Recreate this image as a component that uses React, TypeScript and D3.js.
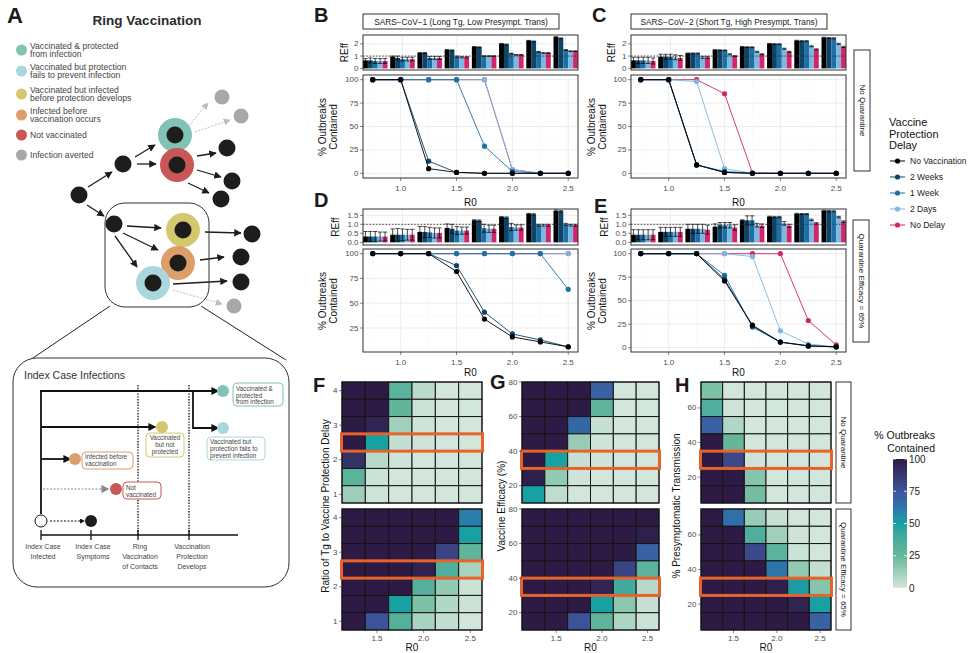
import React from 'react';
import * as d3 from 'd3';

const FONT = '"Liberation Sans", Arial, Helvetica, sans-serif';

// ---- data: outbreak simulations ----
const r0Values = [0.75, 1, 1.25, 1.5, 1.75, 2, 2.25, 2.5];
const delayNames = ['No Vaccination', '2 Weeks', '1 Week', '2 Days', 'No Delay'];
const delayColors = ['#000000', '#0e4468', '#1d6fa5', '#7cb8e2', '#d3256b'];

// % outbreaks contained, one row per delay
const bContained = [
  [100, 100, 5, 1, 0, 0, 0, 0],
  [100, 100, 13, 1, 0, 0, 0, 0],
  [100, 100, 100, 100, 29, 2, 0, 0],
  [100, 100, 100, 100, 100, 4, 0, 0],
  [100, 100, 100, 100, 100, 4, 0, 0],
];
const cContained = [
  [100, 100, 9, 1, 0, 0, 0, 0],
  [100, 100, 9, 1, 0, 0, 0, 0],
  [100, 100, 9, 2, 0, 0, 0, 0],
  [100, 100, 98, 5, 0, 0, 0, 0],
  [100, 100, 100, 85, 0.5, 0, 0, 0],
];
const dContained = [
  [100, 100, 100, 82, 34, 16, 11, 6],
  [100, 100, 100, 88, 41, 19, 13, 6],
  [100, 100, 100, 100, 100, 100, 100, 64],
  [100, 100, 100, 100, 100, 100, 100, 100],
  [100, 100, 100, 100, 100, 100, 100, 100],
];
const eContained = [
  [100, 100, 100, 71, 24, 6, 2, 1],
  [100, 100, 100, 73, 23, 6, 2, 1],
  [100, 100, 100, 77, 22, 6, 2, 1],
  [100, 100, 100, 100, 97, 18, 4, 1],
  [100, 100, 100, 100, 100, 100, 29, 3],
];

// effective reproduction number, mean and error
const bReff = [
  [0.65, 0.95, 1.25, 1.5, 1.75, 2.0, 2.25, 2.55],
  [0.65, 0.85, 1.25, 1.47, 1.72, 1.95, 2.2, 2.45],
  [0.6, 0.75, 0.85, 0.95, 1.0, 1.2, 1.35, 1.5],
  [0.6, 0.75, 0.85, 0.9, 1.0, 1.1, 1.25, 1.4],
  [0.6, 0.75, 0.85, 0.9, 1.0, 1.1, 1.25, 1.4],
];
const bErr = [
  [0.15, 0.05, 0.04, 0.03, 0.03, 0.03, 0.03, 0.03],
  [0.2, 0.15, 0.04, 0.03, 0.03, 0.03, 0.03, 0.03],
  [0.2, 0.15, 0.12, 0.05, 0.03, 0.03, 0.03, 0.03],
  [0.2, 0.15, 0.12, 0.05, 0.03, 0.03, 0.03, 0.03],
  [0.2, 0.15, 0.12, 0.05, 0.03, 0.03, 0.03, 0.03],
];
const cReff = [
  [0.65, 0.95, 1.22, 1.5, 1.75, 2.0, 2.25, 2.5],
  [0.65, 0.95, 1.22, 1.48, 1.73, 1.98, 2.22, 2.47],
  [0.65, 0.95, 1.22, 1.47, 1.72, 1.97, 2.22, 2.45],
  [0.65, 0.9, 0.9, 1.15, 1.35, 1.6, 1.8, 2.0],
  [0.6, 0.85, 0.9, 1.0, 1.15, 1.35, 1.55, 1.75],
];
const cErr = [
  [0.25, 0.2, 0.03, 0.03, 0.03, 0.03, 0.04, 0.04],
  [0.25, 0.2, 0.03, 0.03, 0.03, 0.03, 0.04, 0.04],
  [0.25, 0.2, 0.03, 0.03, 0.03, 0.03, 0.04, 0.04],
  [0.25, 0.2, 0.08, 0.04, 0.04, 0.04, 0.04, 0.05],
  [0.25, 0.2, 0.08, 0.04, 0.04, 0.04, 0.04, 0.05],
];
const dReff = [
  [0.32, 0.42, 0.58, 0.8, 1.22, 1.4, 1.58, 1.75],
  [0.32, 0.42, 0.57, 0.75, 1.2, 1.37, 1.55, 1.72],
  [0.32, 0.42, 0.55, 0.65, 0.78, 0.85, 0.95, 1.0],
  [0.32, 0.42, 0.52, 0.65, 0.75, 0.82, 0.95, 0.95],
  [0.32, 0.42, 0.52, 0.65, 0.75, 0.82, 0.95, 0.95],
];
const dErr = [
  [0.28, 0.32, 0.3, 0.22, 0.03, 0.03, 0.03, 0.05],
  [0.28, 0.35, 0.3, 0.25, 0.04, 0.04, 0.04, 0.04],
  [0.28, 0.32, 0.28, 0.22, 0.22, 0.2, 0.05, 0.05],
  [0.25, 0.3, 0.28, 0.2, 0.2, 0.15, 0.05, 0.05],
  [0.25, 0.3, 0.28, 0.2, 0.2, 0.15, 0.05, 0.05],
];
const eReff = [
  [0.42, 0.58, 0.75, 0.87, 1.22, 1.42, 1.58, 1.75],
  [0.42, 0.58, 0.75, 0.95, 1.22, 1.4, 1.57, 1.73],
  [0.42, 0.58, 0.75, 0.95, 1.22, 1.4, 1.57, 1.72],
  [0.42, 0.58, 0.75, 0.95, 0.95, 1.05, 1.25, 1.4],
  [0.42, 0.58, 0.7, 0.82, 0.92, 0.92, 1.05, 1.15],
];
const eErr = [
  [0.28, 0.25, 0.25, 0.15, 0.03, 0.03, 0.03, 0.03],
  [0.28, 0.25, 0.25, 0.15, 0.25, 0.04, 0.03, 0.03],
  [0.28, 0.25, 0.25, 0.15, 0.25, 0.04, 0.03, 0.03],
  [0.28, 0.25, 0.25, 0.15, 0.1, 0.1, 0.04, 0.04],
  [0.28, 0.25, 0.25, 0.15, 0.1, 0.08, 0.04, 0.04],
];

// heatmaps, rows listed from the top of each panel
const heatR0 = [1.25, 1.5, 1.75, 2, 2.25, 2.5];
const ratioRows = [4, 3.5, 3, 2.5, 2, 1.5, 1];
const efficacyRows = [75, 65, 55, 45, 35, 25, 15];
const presympRows = [70, 60, 50, 40, 30, 20, 10];
const colorbarTicks = [0, 25, 50, 75, 100];

const fTop = [
  [100, 100, 30, 6, 0, 0],
  [100, 100, 27, 2, 0, 0],
  [100, 96, 12, 1, 0, 0],
  [100, 50, 4, 1, 0, 0],
  [90, 7, 1, 0, 0, 0],
  [30, 2, 0, 0, 0, 0],
  [13, 1, 0, 0, 0, 0],
];
const fBottom = [
  [100, 100, 100, 100, 100, 60],
  [100, 100, 100, 100, 100, 50],
  [100, 100, 100, 100, 82, 28],
  [100, 100, 100, 97, 35, 10],
  [100, 100, 100, 33, 15, 2],
  [100, 100, 50, 20, 8, 2],
  [100, 76, 33, 10, 4, 0],
];
const gTop = [
  [100, 100, 100, 70, 0, 0],
  [100, 100, 100, 28, 0, 0],
  [100, 100, 68, 3, 0, 0],
  [100, 100, 14, 1, 0, 0],
  [100, 50, 3, 1, 0, 0],
  [98, 15, 1, 0, 0, 0],
  [50, 5, 0, 0, 0, 0],
];
const gBottom = [
  [100, 100, 100, 100, 100, 100],
  [100, 100, 100, 100, 100, 98],
  [100, 100, 100, 100, 100, 70],
  [100, 100, 100, 100, 82, 30],
  [100, 100, 100, 96, 40, 7],
  [100, 100, 100, 50, 17, 3],
  [100, 100, 76, 28, 9, 2],
];
const hTop = [
  [20, 0, 0, 0, 0, 0],
  [35, 1, 0, 0, 0, 0],
  [70, 8, 0, 0, 0, 0],
  [100, 25, 0, 0, 0, 0],
  [100, 80, 1, 0, 0, 0],
  [100, 100, 18, 0, 0, 0],
  [100, 100, 22, 0, 0, 0],
];
const hBottom = [
  [100, 65, 14, 3, 0, 0],
  [100, 100, 35, 12, 1, 0],
  [100, 100, 80, 30, 2, 0],
  [100, 100, 100, 63, 15, 4],
  [100, 100, 100, 98, 52, 18],
  [100, 100, 100, 100, 96, 50],
  [100, 100, 100, 100, 100, 70],
];

const heatFill = d3
  .scaleLinear<string>()
  .domain([0, 25, 50, 62, 75, 100])
  .range(['#d3e6dc', '#66b79a', '#17a1a3', '#2a77ad', '#3c559e', '#2d1b45'])
  .interpolate(d3.interpolateLab)
  .clamp(true);

const GRID = '#ebebeb';
const GRID_MINOR = '#f6f6f6';
const BORDER = '#333333';
const TICK_TXT = '#4d4d4d';

const minorsOf = (ticks: number[], domain: number[]) => {
  const step = ticks[1] - ticks[0];
  const out: number[] = [];
  for (let v = ticks[0] - step / 2; v <= domain[1]; v += step) {
    if (v >= domain[0]) out.push(v);
  }
  return out;
};

function YAxis({ y, ticks, x0, fmt }: any) {
  return (
    <g>
      {ticks.map((t: number) => (
        <g key={t}>
          <line x1={x0 - 3} x2={x0} y1={y(t)} y2={y(t)} stroke={BORDER} strokeWidth={0.6} />
          <text x={x0 - 4.5} y={y(t)} dominantBaseline="central" textAnchor="end" fontSize={8} fill={TICK_TXT}>
            {fmt ? fmt(t) : t}
          </text>
        </g>
      ))}
    </g>
  );
}

function BarPanel({ x0, x1, y0, y1, reff, err, yDomain, yTicks, fmt }: any) {
  const x = d3.scaleLinear().domain([0.6375, 2.6125]).range([x0, x1]);
  const y = d3.scaleLinear().domain(yDomain).range([y1, y0]);
  const dodge = d3.scaleBand().domain(delayNames).range([-0.1125, 0.1125]);
  const bw = x(dodge.bandwidth()) - x(0);
  return (
    <g>
      <rect x={x0} y={y0} width={x1 - x0} height={y1 - y0} fill="white" />
      {[0.75, 1.25, 1.75, 2.25].map((v) => (
        <line key={'mx' + v} x1={x(v)} x2={x(v)} y1={y0} y2={y1} stroke={GRID_MINOR} strokeWidth={0.5} />
      ))}
      {minorsOf(yTicks, yDomain).map((v) => (
        <line key={'my' + v} x1={x0} x2={x1} y1={y(v)} y2={y(v)} stroke={GRID_MINOR} strokeWidth={0.5} />
      ))}
      {[1, 1.5, 2, 2.5].map((v) => (
        <line key={'gx' + v} x1={x(v)} x2={x(v)} y1={y0} y2={y1} stroke={GRID} strokeWidth={0.9} />
      ))}
      {yTicks.map((v: number) => (
        <line key={'gy' + v} x1={x0} x2={x1} y1={y(v)} y2={y(v)} stroke={GRID} strokeWidth={0.9} />
      ))}
      {delayNames.map((name, di) =>
        r0Values.map((r, ri) => {
          const bx = x(r + (dodge(name) as number));
          const v = reff[di][ri];
          const e = err[di][ri];
          const cx = bx + bw / 2;
          return (
            <g key={name + r}>
              <rect x={bx} y={y(v)} width={bw} height={y(0) - y(v)} fill={delayColors[di]} />
              <line x1={cx} x2={cx} y1={y(v - e)} y2={y(v + e)} stroke="#000" strokeWidth={0.7} />
              <line x1={cx - bw * 0.45} x2={cx + bw * 0.45} y1={y(v + e)} y2={y(v + e)} stroke="#000" strokeWidth={0.7} />
              <line x1={cx - bw * 0.45} x2={cx + bw * 0.45} y1={y(v - e)} y2={y(v - e)} stroke="#000" strokeWidth={0.7} />
            </g>
          );
        })
      )}
      <line x1={x0} x2={x1} y1={y(1)} y2={y(1)} stroke="#333" strokeWidth={0.9} strokeDasharray="1.6,1.6" />
      <rect x={x0} y={y0} width={x1 - x0} height={y1 - y0} fill="none" stroke={BORDER} strokeWidth={1} />
      <YAxis y={y} ticks={yTicks} x0={x0} fmt={fmt} />
    </g>
  );
}

function LinePanel({ x0, x1, y0, y1, contained, yDomain, yTicks, titleOffset }: any) {
  const x = d3.scaleLinear().domain([0.6625, 2.5875]).range([x0, x1]);
  const y = d3.scaleLinear().domain(yDomain).range([y1, y0]);
  const line = d3
    .line<number>()
    .x((_, i) => x(r0Values[i]))
    .y((d) => y(d));
  const order = [4, 3, 2, 1, 0];
  return (
    <g>
      <rect x={x0} y={y0} width={x1 - x0} height={y1 - y0} fill="white" />
      {[0.75, 1.25, 1.75, 2.25].map((v) => (
        <line key={'mx' + v} x1={x(v)} x2={x(v)} y1={y0} y2={y1} stroke={GRID_MINOR} strokeWidth={0.5} />
      ))}
      {minorsOf(yTicks, yDomain).map((v) => (
        <line key={'my' + v} x1={x0} x2={x1} y1={y(v)} y2={y(v)} stroke={GRID_MINOR} strokeWidth={0.5} />
      ))}
      {[1, 1.5, 2, 2.5].map((v) => (
        <line key={'gx' + v} x1={x(v)} x2={x(v)} y1={y0} y2={y1} stroke={GRID} strokeWidth={0.9} />
      ))}
      {yTicks.map((v: number) => (
        <line key={'gy' + v} x1={x0} x2={x1} y1={y(v)} y2={y(v)} stroke={GRID} strokeWidth={0.9} />
      ))}
      {order.map((di) => (
        <g key={delayNames[di]}>
          <path d={line(contained[di]) as string} fill="none" stroke={delayColors[di]} strokeWidth={1} strokeOpacity={0.9} />
          {contained[di].map((v: number, i: number) => (
            <circle key={i} cx={x(r0Values[i])} cy={y(v)} r={2.6} fill={delayColors[di]} />
          ))}
        </g>
      ))}
      <rect x={x0} y={y0} width={x1 - x0} height={y1 - y0} fill="none" stroke={BORDER} strokeWidth={1} />
      <YAxis y={y} ticks={yTicks} x0={x0} />
      {[1, 1.5, 2, 2.5].map((v) => (
        <g key={'xt' + v}>
          <line x1={x(v)} x2={x(v)} y1={y1} y2={y1 + 3} stroke={BORDER} strokeWidth={0.6} />
          <text x={x(v)} y={y1 + 10.5} textAnchor="middle" dominantBaseline="central" fontSize={8} fill={TICK_TXT}>
            {v.toFixed(1)}
          </text>
        </g>
      ))}
      <text x={(x0 + x1) / 2} y={y1 + titleOffset} textAnchor="middle" dominantBaseline="central" fontSize={10} fill="#111">
        R0
      </text>
    </g>
  );
}

function Heatmap({ x0, x1, y0, y1, values, rows, yDomain, yTicks, highlight, showX }: any) {
  const x = d3.scaleLinear().domain([1.125, 2.625]).range([x0, x1]);
  const y = d3.scaleLinear().domain(yDomain).range([y1, y0]);
  const step = rows[0] - rows[1];
  const cw = x(1.375) - x(1.125);
  const ch = y(0) - y(step);
  return (
    <g>
      {rows.map((rv: number, ri: number) =>
        heatR0.map((c, ci) => (
          <rect
            key={ri + '-' + ci}
            x={x(c) - cw / 2}
            y={y(rv + step / 2)}
            width={cw}
            height={ch}
            fill={heatFill(values[ri][ci])}
            stroke="#141414"
            strokeWidth={1}
          />
        ))
      )}
      <rect x={x0} y={y0} width={x1 - x0} height={y1 - y0} fill="none" stroke="#141414" strokeWidth={1} />
      <rect
        x={x0 - 0.5}
        y={y(highlight + step / 2)}
        width={x1 - x0 + 1}
        height={ch}
        fill="none"
        stroke="#e8632b"
        strokeWidth={3}
      />
      <YAxis y={y} ticks={yTicks} x0={x0} />
      {showX &&
        [1.5, 2, 2.5].map((v) => (
          <g key={'xt' + v}>
            <line x1={x(v)} x2={x(v)} y1={y1} y2={y1 + 3} stroke={BORDER} strokeWidth={0.6} />
            <text x={x(v)} y={y1 + 8.5} textAnchor="middle" dominantBaseline="central" fontSize={8} fill={TICK_TXT}>
              {v.toFixed(1)}
            </text>
          </g>
        ))}
      {showX && (
        <text x={(x0 + x1) / 2} y={y1 + 17} textAnchor="middle" dominantBaseline="central" fontSize={10} fill="#111">
          R0
        </text>
      )}
    </g>
  );
}

function StripTop({ x0, x1, y0, y1, label }: any) {
  return (
    <g>
      <rect x={x0} y={y0} width={x1 - x0} height={y1 - y0} fill="white" stroke={BORDER} strokeWidth={1} />
      <text x={(x0 + x1) / 2} y={(y0 + y1) / 2} textAnchor="middle" dominantBaseline="central" fontSize={8.3} fill="#1a1a1a">
        {label}
      </text>
    </g>
  );
}

function StripRight({ x0, x1, y0, y1, label }: any) {
  const cx = (x0 + x1) / 2;
  const cy = (y0 + y1) / 2;
  return (
    <g>
      <rect x={x0} y={y0} width={x1 - x0} height={y1 - y0} fill="white" stroke={BORDER} strokeWidth={1} />
      <text
        x={cx}
        y={cy}
        transform={`rotate(90 ${cx} ${cy})`}
        textAnchor="middle"
        dominantBaseline="central"
        fontSize={8}
        fill="#1a1a1a"
      >
        {label}
      </text>
    </g>
  );
}

function VTitle({ x, y, lines, size = 10 }: any) {
  return (
    <text transform={`rotate(-90 ${x} ${y})`} x={x} y={y} textAnchor="middle" fontSize={size} fill="#111">
      {lines.map((l: string, i: number) => (
        <tspan key={i} x={x} dy={i === 0 ? -(lines.length - 1) * size * 0.55 + size * 0.35 : size * 1.1}>
          {l}
        </tspan>
      ))}
    </text>
  );
}

function Letter({ x, y, t }: any) {
  return (
    <text x={x} y={y} fontSize={20} fontWeight="bold" fill="#1a1a1a">
      {t}
    </text>
  );
}

// ---- panel A diagram ----
const A_TEAL = '#80c2b4';
const A_LBLUE = '#a9d7dd';
const A_YEL = '#d4c86e';
const A_ORA = '#de9e69';
const A_RED = '#ca5758';
const A_GREY = '#a8a8a8';
const A_BLK = '#1d1e1c';

const aLegend = [
  { c: A_TEAL, lines: ['Vaccinated & protected', 'from infection'], y: 50 },
  { c: A_LBLUE, lines: ['Vaccinated but protection', 'fails to prevent infection'], y: 71 },
  { c: A_YEL, lines: ['Vaccinated but infected', 'before protection develops'], y: 94 },
  { c: A_ORA, lines: ['Infected before', 'vaccination occurs'], y: 115 },
  { c: A_RED, lines: ['Not vaccinated'], y: 135 },
  { c: A_GREY, lines: ['Infection averted'], y: 155 },
];

function PanelA() {
  const blackNodes = [
    [79, 195], [123, 164], [114, 224], [227, 148], [232, 181], [221, 199], [252, 234], [241, 257], [241, 282],
  ];
  const greyNodes = [[222, 97], [241, 116], [234, 306]];
  const rings = [
    [175, 135, A_TEAL], [177, 165, A_RED], [183, 230, A_YEL], [178, 263, A_ORA], [153, 283, A_LBLUE],
  ];
  const arrows = [
    [88, 187, 112, 172], [87, 205, 104, 216], [135, 157, 155, 145], [137, 164, 156, 164],
    [197, 156, 216, 153], [197, 170, 221, 177], [188, 183, 209, 193],
    [127, 226, 161, 228], [123, 233, 158, 250], [115, 236, 137, 267],
    [205, 232, 241, 233], [200, 260, 224, 257], [173, 284, 227, 281],
  ];
  const dotted = [[187, 128, 208, 103], [195, 132, 230, 120], [173, 290, 222, 304]];
  const tl = 535;
  const labelBox = (x: number, y: number, w: number, h: number, stroke: string, lines: string[], anchor: string, ys: number[]) => (
    <g>
      <rect x={x} y={y} width={w} height={h} rx={4} fill="white" stroke={stroke} strokeWidth={1} />
      {lines.map((l, i) => (
        <text
          key={i}
          x={anchor === 'middle' ? x + w / 2 : x + 3}
          y={ys[i]}
          textAnchor={anchor}
          dominantBaseline="central"
          fontSize={6.3}
          fill="#444"
        >
          {l}
        </text>
      ))}
    </g>
  );
  return (
    <g>
      <text x={7} y={23} fontSize={22} fontWeight="bold" fill="#1a1a1a">A</text>
      <text x={147} y={25} fontSize={13.5} fontWeight="bold" textAnchor="middle" fill="#2a2a2a">
        Ring Vaccination
      </text>
      {aLegend.map((e) => (
        <g key={e.lines[0]}>
          <circle cx={21.5} cy={e.y} r={5.5} fill={e.c} />
          {e.lines.map((l, i) => (
            <text
              key={i}
              x={30}
              y={e.lines.length === 1 ? e.y : e.y + (i === 0 ? -4.3 : 4)}
              dominantBaseline="central"
              fontSize={8.6}
              fill="#444"
            >
              {l}
            </text>
          ))}
        </g>
      ))}
      {arrows.map((a, i) => (
        <line key={'ar' + i} x1={a[0]} y1={a[1]} x2={a[2]} y2={a[3]} stroke={A_BLK} strokeWidth={1.3} markerEnd="url(#ah)" />
      ))}
      {dotted.map((a, i) => (
        <line
          key={'dt' + i}
          x1={a[0]}
          y1={a[1]}
          x2={a[2]}
          y2={a[3]}
          stroke="#bdbdbd"
          strokeWidth={1}
          strokeDasharray="2,1.5"
          markerEnd="url(#ahg)"
        />
      ))}
      <rect x={105} y={203} width={104} height={104} rx={20} fill="none" stroke="#333" strokeWidth={1} />
      {rings.map((r, i) => (
        <g key={'rg' + i}>
          <circle cx={r[0] as number} cy={r[1] as number} r={17} fill={r[2] as string} />
          <circle cx={r[0] as number} cy={r[1] as number} r={8.5} fill={A_BLK} />
        </g>
      ))}
      {blackNodes.map((n, i) => (
        <circle key={'bn' + i} cx={n[0]} cy={n[1]} r={8.5} fill={A_BLK} />
      ))}
      {greyNodes.map((n, i) => (
        <circle key={'gn' + i} cx={n[0]} cy={n[1]} r={7.5} fill={A_GREY} />
      ))}
      <line x1={110} y1={306} x2={30} y2={360} stroke="#222" strokeWidth={1} />
      <line x1={201} y1={306} x2={286} y2={360} stroke="#222" strokeWidth={1} />

      {/* index case timeline */}
      <rect x={13} y={358} width={276} height={229} rx={24} fill="white" stroke="#333" strokeWidth={1} />
      <text x={24} y={375} dominantBaseline="central" fontSize={10.5} fill="#333">
        Index Case Infections
      </text>
      <line x1={138} x2={138} y1={385} y2={tl} stroke="#111" strokeWidth={1.3} strokeDasharray="1.4,1.4" />
      <line x1={189} x2={189} y1={385} y2={tl} stroke="#111" strokeWidth={1.3} strokeDasharray="1.4,1.4" />
      <line x1={41} x2={41} y1={391} y2={514} stroke="#111" strokeWidth={1.8} />
      <line x1={40.1} x2={213} y1={391} y2={391} stroke="#111" strokeWidth={1.8} markerEnd="url(#ah2)" />
      <polyline points="193,391 193,428 213,428" fill="none" stroke="#111" strokeWidth={1.8} markerEnd="url(#ah2)" />
      <line x1={41} x2={150} y1={427} y2={427} stroke="#111" strokeWidth={1.8} markerEnd="url(#ah2)" />
      <line x1={41} x2={65} y1={459} y2={459} stroke="#111" strokeWidth={1.8} markerEnd="url(#ah2)" />
      <line x1={43} x2={103} y1={489} y2={489} stroke="#888" strokeWidth={1} strokeDasharray="2,1.5" markerEnd="url(#ahg2)" />
      <circle cx={223} cy={391} r={6} fill={A_TEAL} />
      <circle cx={223} cy={428} r={6} fill={A_LBLUE} />
      <circle cx={162} cy={427} r={6} fill={A_YEL} />
      <circle cx={75} cy={459} r={6} fill={A_ORA} />
      <circle cx={116} cy={489} r={6} fill={A_RED} />
      {labelBox(233, 383, 50, 23, A_TEAL, ['Vaccinated &', 'protected', 'from infection'], 'start', [388.5, 395, 401.5])}
      {labelBox(207, 437, 58, 23, A_LBLUE, ['Vaccinated but', 'protection fails to', 'prevent infection'], 'start', [441.7, 448.3, 455])}
      {labelBox(146, 433, 38, 24, A_YEL, ['Vaccinated', 'but not', 'protected'], 'middle', [437.5, 444.5, 451.5])}
      {labelBox(82, 452, 51, 17, A_ORA, ['Infected before', 'vaccination'], 'start', [456.7, 463.7])}
      {labelBox(123, 482, 38, 17, A_RED, ['Not', 'vaccinated'], 'start', [487, 494])}
      <circle cx={41} cy={521} r={6} fill="white" stroke="#111" strokeWidth={1} />
      <line x1={50} x2={81} y1={521} y2={521} stroke="#111" strokeWidth={1} strokeDasharray="2,1.5" markerEnd="url(#ahs)" />
      <circle cx={91} cy={521} r={6} fill={A_BLK} />
      <line x1={41} x2={238} y1={tl} y2={tl} stroke="#111" strokeWidth={1.3} />
      {[41, 91, 138, 189].map((t) => (
        <line key={t} x1={t} x2={t} y1={tl - 5} y2={tl + 5} stroke="#111" strokeWidth={1.3} />
      ))}
      {[
        [43, ['Index Case', 'Infected']],
        [93, ['Index Case', 'Symptoms']],
        [140, ['Ring', 'Vaccination', 'of Contacts']],
        [192, ['Vaccination', 'Protection', 'Develops']],
      ].map(([x, lines]: any) =>
        lines.map((l: string, i: number) => (
          <text key={x + l} x={x} y={546 + i * 10.3} textAnchor="middle" dominantBaseline="central" fontSize={7} fill="#444">
            {l}
          </text>
        ))
      )}
    </g>
  );
}

export default function App() {
  const BX = [363, 578];
  const CX = [631, 846];
  const topBar = [35, 70];
  const topLine = [75, 178];
  const botBar = [209, 245];
  const botLine = [249, 352];
  const reffTop = { yDomain: [-0.135, 2.72], yTicks: [0, 1, 2] };
  const reffBot = { yDomain: [-0.15, 1.85], yTicks: [0, 0.5, 1, 1.5], fmt: (v: number) => v.toFixed(1) };
  const heatY = { top: [382, 503], bot: [509, 630] };
  const F = [342, 482];
  const G = [522, 659];
  const H = [701, 831];
  const cbY = [459, 588];
  const cb = d3.scaleLinear().domain([0, 100]).range([cbY[1], cbY[0]]);
  const stops = d3.range(0, 101, 5);

  return (
    <svg
      width={969}
      height={653}
      style={{ position: 'absolute', left: 0, top: 0, background: 'white', fontFamily: FONT }}
      fontFamily={FONT}
    >
      <defs>
        <marker id="ah" viewBox="0 0 10 10" refX="9" refY="5" markerUnits="userSpaceOnUse" markerWidth="7.5" markerHeight="7.5" orient="auto">
          <path d="M0,0 L10,5 L0,10 z" fill={A_BLK} />
        </marker>
        <marker id="ahg" viewBox="0 0 10 10" refX="9" refY="5" markerUnits="userSpaceOnUse" markerWidth="7" markerHeight="7" orient="auto">
          <path d="M0,0 L10,5 L0,10 z" fill="#bdbdbd" />
        </marker>
        <marker id="ah2" viewBox="0 0 10 10" refX="2" refY="5" markerUnits="userSpaceOnUse" markerWidth="8" markerHeight="8" orient="auto">
          <path d="M0,0 L10,5 L0,10 z" fill="#111" />
        </marker>
        <marker id="ahg2" viewBox="0 0 10 10" refX="2" refY="5" markerUnits="userSpaceOnUse" markerWidth="8" markerHeight="8" orient="auto">
          <path d="M0,0 L10,5 L0,10 z" fill="#888" />
        </marker>
        <marker id="ahs" viewBox="0 0 10 10" refX="2" refY="5" markerUnits="userSpaceOnUse" markerWidth="5" markerHeight="5" orient="auto">
          <path d="M0,0 L10,5 L0,10 z" fill="#111" />
        </marker>
        <linearGradient id="cbGrad" x1="0" y1="1" x2="0" y2="0">
          {stops.map((s) => (
            <stop key={s} offset={`${s}%`} stopColor={heatFill(s)} />
          ))}
        </linearGradient>
      </defs>
      <rect x={0} y={0} width={969} height={653} fill="white" />

      <PanelA />

      {/* B */}
      <Letter x={314} y={22} t="B" />
      <StripTop x0={BX[0]} x1={559} y0={14} y1={29} label="SARS−CoV−1 (Long Tg, Low Presympt. Trans)" />
      <BarPanel x0={BX[0]} x1={BX[1]} y0={topBar[0]} y1={topBar[1]} reff={bReff} err={bErr} {...reffTop} />
      <LinePanel x0={BX[0]} x1={BX[1]} y0={topLine[0]} y1={topLine[1]} contained={bContained} yDomain={[-5, 105]} yTicks={[0, 25, 50, 75, 100]} titleOffset={24} />
      <VTitle x={344} y={52.5} lines={['REff']} />
      <VTitle x={328} y={127} lines={['% Outbreaks', 'Contained']} />

      {/* C */}
      <Letter x={592} y={22} t="C" />
      <StripTop x0={CX[0]} x1={827} y0={14} y1={29} label="SARS−CoV−2 (Short Tg, High Presympt. Trans)" />
      <BarPanel x0={CX[0]} x1={CX[1]} y0={topBar[0]} y1={topBar[1]} reff={cReff} err={cErr} {...reffTop} />
      <LinePanel x0={CX[0]} x1={CX[1]} y0={topLine[0]} y1={topLine[1]} contained={cContained} yDomain={[-5, 105]} yTicks={[0, 25, 50, 75, 100]} titleOffset={24} />
      <VTitle x={611} y={52.5} lines={['REff']} />
      <VTitle x={597} y={127} lines={['% Outbreaks', 'Contained']} />
      <StripRight x0={854} x1={870} y0={50} y1={171} label="No Quarantine" />

      {/* D */}
      <Letter x={314} y={207} t="D" />
      <BarPanel x0={BX[0]} x1={BX[1]} y0={botBar[0]} y1={botBar[1]} reff={dReff} err={dErr} {...reffBot} />
      <LinePanel x0={BX[0]} x1={BX[1]} y0={botLine[0]} y1={botLine[1]} contained={dContained} yDomain={[0.8, 104.7]} yTicks={[25, 50, 75, 100]} titleOffset={20} />
      <VTitle x={335} y={227} lines={['REff']} />
      <VTitle x={328} y={301} lines={['% Outbreaks', 'Contained']} />

      {/* E */}
      <Letter x={594} y={213} t="E" />
      <BarPanel x0={CX[0]} x1={CX[1]} y0={botBar[0]} y1={botBar[1]} reff={eReff} err={eErr} {...reffBot} />
      <LinePanel x0={CX[0]} x1={CX[1]} y0={botLine[0]} y1={botLine[1]} contained={eContained} yDomain={[-4.5, 105]} yTicks={[0, 25, 50, 75, 100]} titleOffset={20} />
      <VTitle x={604} y={227} lines={['REff']} />
      <VTitle x={597} y={301} lines={['% Outbreaks', 'Contained']} />
      <StripRight x0={853} x1={869} y0={220} y1={342} label="Quarantine Efficacy = 65%" />

      {/* delay legend */}
      {['Vaccine', 'Protection', 'Delay'].map((l, i) => (
        <text key={l} x={889} y={122 + i * 11.5} dominantBaseline="central" fontSize={11} fill="#111">
          {l}
        </text>
      ))}
      {delayNames.map((n, i) => (
        <g key={n}>
          <line x1={890} x2={905} y1={161 + i * 16} y2={161 + i * 16} stroke={delayColors[i]} strokeWidth={1} />
          <circle cx={897.5} cy={161 + i * 16} r={2.6} fill={delayColors[i]} />
          <text x={910} y={161 + i * 16} dominantBaseline="central" fontSize={8.5} fill="#1a1a1a">
            {n}
          </text>
        </g>
      ))}

      {/* F */}
      <Letter x={313} y={392} t="F" />
      <Heatmap x0={F[0]} x1={F[1]} y0={heatY.top[0]} y1={heatY.top[1]} values={fTop} rows={ratioRows} yDomain={[0.75, 4.25]} yTicks={[1, 2, 3, 4]} highlight={2.5} />
      <Heatmap x0={F[0]} x1={F[1]} y0={heatY.bot[0]} y1={heatY.bot[1]} values={fBottom} rows={ratioRows} yDomain={[0.75, 4.25]} yTicks={[1, 2, 3, 4]} highlight={2.5} showX />
      <VTitle x={325} y={506} lines={['Ratio of Tg to Vaccine Protection Delay']} />

      {/* G */}
      <Letter x={490} y={389} t="G" />
      <Heatmap x0={G[0]} x1={G[1]} y0={heatY.top[0]} y1={heatY.top[1]} values={gTop} rows={efficacyRows} yDomain={[10, 80]} yTicks={[20, 40, 60, 80]} highlight={35} />
      <Heatmap x0={G[0]} x1={G[1]} y0={heatY.bot[0]} y1={heatY.bot[1]} values={gBottom} rows={efficacyRows} yDomain={[10, 80]} yTicks={[20, 40, 60, 80]} highlight={35} showX />
      <VTitle x={501} y={506} lines={['Vaccine Efficacy (%)']} />

      {/* H */}
      <Letter x={675} y={392} t="H" />
      <Heatmap x0={H[0]} x1={H[1]} y0={heatY.top[0]} y1={heatY.top[1]} values={hTop} rows={presympRows} yDomain={[5, 75]} yTicks={[20, 40, 60]} highlight={30} />
      <Heatmap x0={H[0]} x1={H[1]} y0={heatY.bot[0]} y1={heatY.bot[1]} values={hBottom} rows={presympRows} yDomain={[5, 75]} yTicks={[20, 40, 60]} highlight={30} showX />
      <VTitle x={676} y={506} lines={['% Presymptomatic Transmission']} />
      <StripRight x0={836} x1={851} y0={382} y1={503} label="No Quarantine" />
      <StripRight x0={836} x1={851} y0={509} y1={630} label="Quarantine Efficacy = 65%" />

      {/* colour bar */}
      <text x={935} y={435} textAnchor="end" dominantBaseline="central" fontSize={10.5} fill="#111">
        % Outbreaks
      </text>
      <text x={935} y={448} textAnchor="end" dominantBaseline="central" fontSize={10.5} fill="#111">
        Contained
      </text>
      <rect x={893} y={cbY[0]} width={14} height={cbY[1] - cbY[0]} fill="url(#cbGrad)" />
      {colorbarTicks.map((t) => (
        <g key={t}>
          <line x1={893} x2={896} y1={cb(t)} y2={cb(t)} stroke="white" strokeWidth={0.8} />
          <line x1={904} x2={907} y1={cb(t)} y2={cb(t)} stroke="white" strokeWidth={0.8} />
          <text x={909} y={cb(t)} dominantBaseline="central" fontSize={10} fill="#222">
            {t}
          </text>
        </g>
      ))}
    </svg>
  );
}
